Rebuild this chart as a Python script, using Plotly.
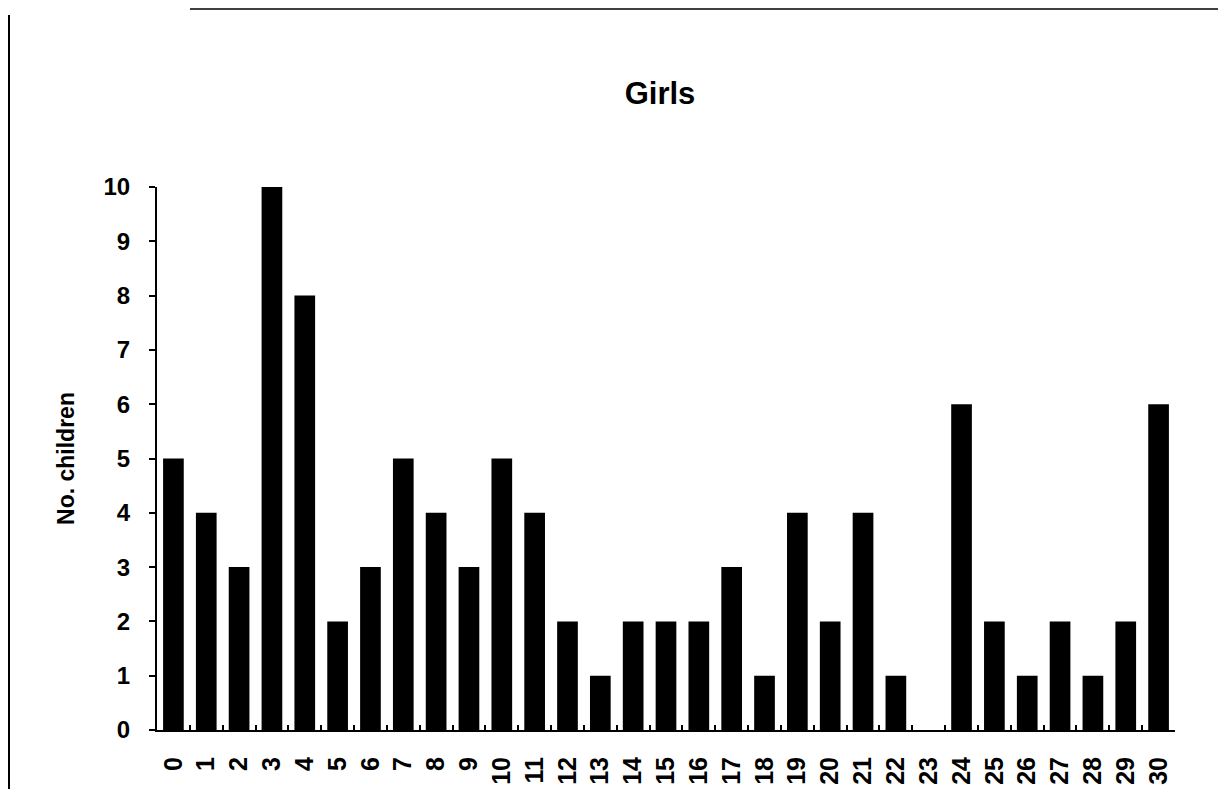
import plotly.graph_objects as go

categories = [str(i) for i in range(31)]
values = [5, 4, 3, 10, 8, 2, 3, 5, 4, 3, 5, 4, 2, 1, 2, 2, 2, 3, 1, 4, 2, 4, 1, 0, 6, 2, 1, 2, 1, 2, 6]
y_ticks = list(range(0, 11))

W, H = 1226, 789
L, R, T, B = 149, 59, 179, 67
PW, PH = W - L - R, H - T - B

fig = go.Figure()
fig.add_trace(go.Bar(x=categories, y=values, marker=dict(color="black", line=dict(width=0))))

font_family = "Liberation Sans, Arial, sans-serif"
fig.update_layout(
    width=W, height=H,
    margin=dict(l=L, r=R, t=T, b=B, autoexpand=False),
    paper_bgcolor="white", plot_bgcolor="white",
    bargap=0.37,
    showlegend=False,
    title=dict(text="<b>Girls</b>", x=(660 - 8) / W, xanchor="center", y=1 - (93 - 8) / H, yanchor="middle",
               font=dict(family=font_family, size=31, color="black")),
    font=dict(family=font_family, color="black"),
)
fig.update_xaxes(
    type="category", range=[-0.5, 30.5], automargin=False,
    showline=True, linecolor="black", linewidth=2,
    ticks="inside", tickson="boundaries", ticklen=5, tickcolor="black", tickwidth=1.5,
    tickangle=-90, ticklabelstandoff=15,
    tickfont=dict(size=25, family=font_family, color="black", weight="bold"),
    showgrid=False, zeroline=False,
)
fig.update_yaxes(
    range=[0, 10], tickvals=y_ticks, automargin=False,
    showline=True, linecolor="black", linewidth=2,
    ticks="outside", ticklen=6, tickcolor="black", tickwidth=1.5,
    ticklabelstandoff=14,
    tickfont=dict(size=24, family=font_family, color="black", weight="bold"),
    showgrid=False, zeroline=False,
    title=dict(text="<b>No. children</b>", font=dict(size=23, family=font_family, color="black"), standoff=22),
)
# frame lines of the scanned page
fig.add_shape(type="line", xref="paper", yref="paper",
              x0=(1 - L) / PW, x1=(1 - L) / PW, y0=-B / PH, y1=(PH + T - 7) / PH,
              line=dict(color="black", width=2))
fig.add_shape(type="line", xref="paper", yref="paper",
              x0=(190 - 8 - L) / PW, x1=(W - L) / PW, y0=(PH + T - 1) / PH, y1=(PH + T - 1) / PH,
              line=dict(color="black", width=1.5))

fig.write_html("out.html")
